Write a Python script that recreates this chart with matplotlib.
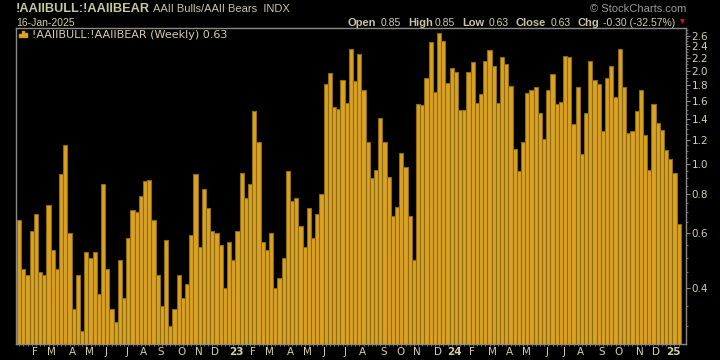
import pandas as pd
import matplotlib
matplotlib.use('Agg')
import matplotlib.pyplot as plt
from matplotlib.ticker import FixedLocator, NullFormatter

# weekly AAII bull/bear ratio, first week 13-Jan-2022
start_date = '2022-01-13'
ratio = [
    0.65, 0.45, 0.43, 0.60, 0.68, 0.44, 0.43, 0.73, 0.52, 0.45,
    0.92, 1.14, 0.59, 0.33, 0.43, 0.28, 0.51, 0.49, 0.51, 0.37,
    0.85, 0.45, 0.33, 0.30, 0.48, 0.36, 0.57, 0.70, 0.69, 0.78,
    0.87, 0.88, 0.65, 0.43, 0.34, 0.56, 0.29, 0.33, 0.43, 0.36,
    0.40, 0.58, 0.92, 0.53, 0.82, 0.71, 0.60, 0.59, 0.54, 0.39,
    0.55, 0.48, 0.60, 0.93, 0.77, 0.85, 1.48, 1.17, 0.55, 0.52,
    0.59, 0.39, 0.42, 0.49, 0.94, 0.75, 0.77, 0.62, 0.53, 0.71,
    0.57, 0.68, 0.79, 1.81, 1.96, 1.52, 1.50, 1.86, 1.56, 2.35,
    1.84, 2.26, 1.73, 1.17, 0.89, 0.95, 1.40, 1.17, 0.90, 0.67,
    0.72, 1.08, 0.97, 0.67, 0.48, 1.55, 1.54, 1.89, 2.46, 1.70,
    2.63, 2.49, 1.82, 2.04, 1.98, 1.49, 1.49, 1.98, 2.13, 1.56,
    1.67, 2.15, 2.33, 2.07, 1.57, 2.20, 2.10, 1.78, 1.11, 0.94,
    1.17, 1.69, 1.73, 1.76, 1.45, 1.20, 1.72, 1.95, 1.55, 1.58,
    2.23, 2.21, 1.34, 1.76, 1.07, 1.45, 2.15, 1.86, 1.80, 1.27,
    1.89, 2.07, 1.64, 2.35, 1.77, 1.25, 1.27, 1.48, 1.73, 1.23,
    0.95, 1.55, 1.35, 1.28, 1.10, 1.03, 0.93, 0.63,
]
y_ticks = [0.4, 0.6, 0.8, 1.0, 1.2, 1.4, 1.6, 1.8, 2.0, 2.2, 2.4, 2.6]
month_letters = 'JFMAMJJASOND'

header_items = [('Open', '0.85'), ('High', '0.85'), ('Low', '0.63'),
                ('Close', '0.63'), ('Chg', '-0.30 (-32.57%)')]

txt = '#d6d0a2'
head = '#c9c5a0'
grid_gray = '#8a8a8a'
bar_face = '#daa222'
bar_edge = '#8e6a10'
hfont = 'Liberation Sans'

dates = pd.date_range(start_date, periods=len(ratio), freq='7D')
x = list(range(len(ratio)))

fig = plt.figure(figsize=(7.2, 3.6), dpi=100, facecolor='black')
W, H = 720, 360
ax = fig.add_axes([16 / W, (H - 344) / H, (686 - 16) / W, (344 - 28) / H])
ax.set_facecolor('black')

ax.bar(x, ratio, width=1.0, bottom=0.01, color=bar_face, edgecolor=bar_edge, linewidth=0.8)

ax.set_yscale('log')
ax.set_ylim(0.263, 2.75)
ax.set_xlim(-0.74, len(ratio) + 0.76)

for s in ax.spines.values():
    s.set_color(grid_gray)
    s.set_linewidth(1.0)

ax.yaxis.tick_right()
ax.yaxis.set_major_locator(FixedLocator(y_ticks))
ax.yaxis.set_minor_locator(FixedLocator([v / 100 for v in range(30, 275, 5)]))
ax.yaxis.set_minor_formatter(NullFormatter())
ax.set_yticklabels([f'{v:.1f}' for v in y_ticks])
ax.tick_params(axis='y', which='major', colors=grid_gray, labelcolor=txt,
               labelsize=7.5, length=3, pad=1, direction='out')
ax.tick_params(axis='y', which='minor', colors=grid_gray, length=1.5, direction='out')

# x axis: a small tick under every bar, month letters / years as labels
ax.xaxis.set_minor_locator(FixedLocator(x))
ax.xaxis.set_major_locator(FixedLocator([]))
ax.tick_params(axis='x', which='minor', colors=grid_gray, length=1.5, direction='out')
for i in range(1, len(dates)):
    if dates[i].month != dates[i - 1].month:
        if dates[i].month == 1:
            lab, wt = dates[i].strftime('%y'), 'bold'
        else:
            lab, wt = month_letters[dates[i].month - 1], 'normal'
        ax.text(i + 0.7, -0.025, lab, transform=ax.get_xaxis_transform(),
                ha='center', va='center', fontsize=7.5, color=txt, fontweight=wt)

# legend line inside the plot (little bar icon + name)
for px, ph in [(19, 3), (22, 6), (25, 4)]:
    fig.patches.append(plt.Rectangle((px / W, 1 - 37 / H), 2 / W, ph / H,
                                     color=bar_face, transform=fig.transFigure))
fig.text(32 / W, 1 - 35.5 / H, f'!AAIIBULL:!AAIIBEAR (Weekly) {ratio[-1]:.2f}',
         fontsize=8, color=txt, va='center', ha='left')

# header
fig.text(16 / W, 1 - 9 / H, '!AAIIBULL:!AAIIBEAR', fontsize=9.2, fontweight='bold',
         family=hfont, color=head, va='center', ha='left')
fig.text(153 / W, 1 - 9 / H, 'AAII Bulls/AAII Bears  INDX', fontsize=8, family=hfont,
         color=head, va='center', ha='left')
fig.text(16 / W, 1 - 22.5 / H, '16-Jan-2025', fontsize=7.5, family=hfont, color=txt,
         va='center', ha='left')
fig.text(686 / W, 1 - 9.5 / H, '\u00a9 StockCharts.com', fontsize=8, family=hfont,
         color='#9a9a9a', va='center', ha='right')

label_x = [348, 408, 462, 516, 578]
value_x = [381, 435, 489, 551, 603]
for (name, val), lx, vx in zip(header_items, label_x, value_x):
    fig.text(lx / W, 1 - 22.5 / H, name, fontsize=8, fontweight='bold', family=hfont,
             color=head, va='center', ha='left')
    fig.text(vx / W, 1 - 22.5 / H, val, fontsize=7.5, family=hfont, color=txt,
             va='center', ha='left')
fig.text(682 / W, 1 - 22 / H, '\u25bc', fontsize=4.5, color='#e01010',
         va='center', ha='center')

fig.savefig('out.png', dpi=100, facecolor='black')
